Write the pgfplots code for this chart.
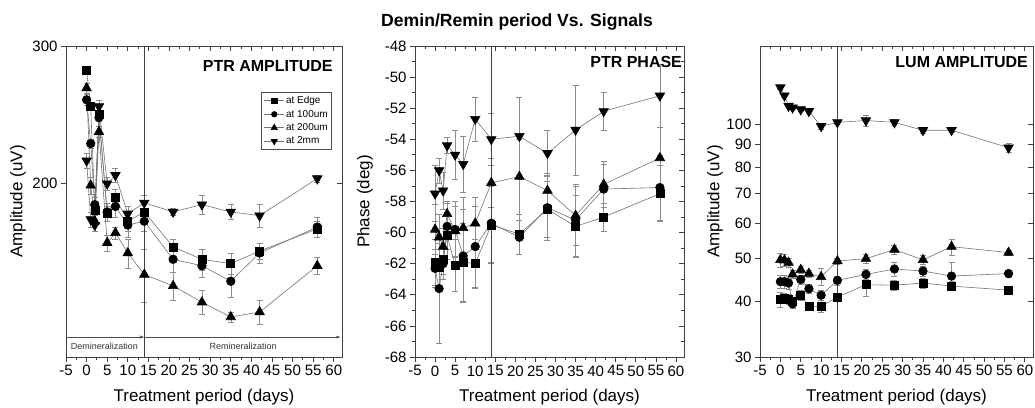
\documentclass[border=0pt]{standalone}
\usepackage{fontspec}
\setmainfont{Liberation Sans}
\usepackage{pgfplots}
\pgfplotsset{compat=1.18}
\usetikzlibrary{arrows.meta}

\pgfplotsset{
  base/.style={
    scale only axis, height=311pt,
    xmin=-5, xmax=62, xtick={-5,0,...,60}, minor x tick num=1,
    tick pos=left, tick align=outside,
    axis line style={black!75, line width=0.9pt},
    major tick length=5pt, minor tick length=3pt,
    every tick/.append style={black!75, line width=0.8pt},
    /pgf/number format/assume math mode=true,
    tick label style={font=\fontsize{15}{18}\selectfont},
    label style={font=\fontsize{17}{20}\selectfont},
    xlabel={Treatment period (days)},
    xlabel style={at={(axis description cs:0.5,-0.128)}, anchor=center},
  },
  over/.style={tick pos=right, tick align=inside, axis line style={draw=none},
    xticklabels={}, yticklabels={}, xlabel={}, ylabel={}},
  ser/.style={black!55, line width=0.6pt, mark options={black, solid},
    error bars/y dir=both, error bars/y explicit,
    error bars/error bar style={black!45, line width=0.5pt},
    error bars/error mark options={rotate=90, black!45, mark size=3pt, line width=0.5pt}},
  sq/.style={ser, mark=square*, mark size=4pt},
  ci/.style={ser, mark=*, mark size=4.3pt},
  tu/.style={ser, mark=triangle*, mark size=5.5pt},
  td/.style={ser, mark=triangle*, mark size=5.5pt, mark options={black, solid, rotate=180}},
}

\begin{document}
\begin{tikzpicture}
\path[use as bounding box] (0pt,0pt) rectangle (1035pt,407pt);
\node[font=\bfseries\fontsize{17.6}{20}\selectfont] at (517pt,385pt) {Demin/Remin period Vs. Signals};

% ---------- Panel 1 ----------
\begin{axis}[base, at={(66pt,50pt)}, anchor=south west, width=276pt,
  ymode=log, ymin=120, ymax=300, ytick={200,300}, log ticks with fixed point, yminorticks=false,
  ylabel={Amplitude (uV)},
  ylabel style={at={(axis description cs:-0.174,0.5)}, anchor=center},
  legend style={at={(rel axis cs:0.964,0.852)}, anchor=north east,
    font=\fontsize{10}{12}\selectfont, draw=black!70, line width=0.6pt,
    row sep=2pt, inner sep=2.5pt, nodes={inner sep=1.5pt}},
  legend cell align=left,
  legend image code/.code={\draw[mark repeat=2,mark phase=2] plot coordinates {(0pt,0pt) (10pt,0pt) (20pt,0pt)};},
  legend image post style={every mark/.append style={scale=0.65}},
]
\addplot+[sq] table[y error=e] {
x y e
0 279 3
1 251 3
2 185 3
3 245 3
5 183 4
7 192 5
10 179 5
14 184 5
21 166 4
28 160 5
35 158 5
42 164 4
56 175 4
};
\addplot+[ci] table[y error=e] {
x y e
0 256 4
1 225 3
2 188 4
3 243 3
5 184 5
7 187 6
10 177 6
14 179 5
21 160 6
28 157 5
35 150 7
42 163 5
56 176 5
};
\addplot+[tu] table[y error=e] {
x y e
0 265 4
1 199 5
2 179 5
3 233 4
5 168 4
7 173 3
10 163 7
14 153 12
21 148 6
28 141 5
35 135 2
42 137 5
56 157 4
};
\addplot+[td] table[y error=e] {
x y e
0 214 5
1 180 4
2 177 3
3 251 5
5 200 4
7 205 4
10 183 4
14 189 4
21 184 2
28 188 5
35 184 4
42 182 6
56 203 2
};
\legend{at Edge, at 100um, at 200um, at 2mm}
\draw[black!75, line width=0.8pt] (rel axis cs:0.2836,0) -- (rel axis cs:0.2836,1);
\draw[-{Stealth[length=5pt,width=3pt]}, black!70, line width=0.6pt]
  (rel axis cs:0,0.064) -- (rel axis cs:0.2836,0.064);
\draw[-{Stealth[length=5pt,width=3pt]}, black!70, line width=0.6pt]
  (rel axis cs:0.2836,0.064) -- (rel axis cs:0.995,0.064);
\node[font=\fontsize{9}{10}\selectfont, text=black!80] at (rel axis cs:0.139,0.036) {Demineralization};
\node[font=\fontsize{9}{10}\selectfont, text=black!80] at (rel axis cs:0.642,0.036) {Remineralization};
\node[anchor=north east, inner sep=0pt, font=\bfseries\fontsize{16}{19}\selectfont] at (rel axis cs:0.967,0.955) {PTR AMPLITUDE};
\end{axis}
\begin{axis}[base, over, at={(66pt,50pt)}, anchor=south west, width=276pt,
  ymode=log, ymin=120, ymax=300, ytick={200,300}, yminorticks=false]
\addplot[draw=none] coordinates {(0,200)};
\end{axis}

% ---------- Panel 2 ----------
\begin{axis}[base, at={(415pt,50pt)}, anchor=south west, width=269pt,
  ymin=-68, ymax=-48, ytick={-68,-66,...,-48}, minor y tick num=1,
  ylabel={Phase (deg)},
  ylabel style={at={(axis description cs:-0.186,0.5)}, anchor=center},
]
\addplot+[sq] table[y error=e] {
x y e
0 -61.9 1.5
1 -62.2 1.5
2 -61.7 1.0
3 -60.2 1.5
5 -62.1 1.7
7 -61.9 2.5
10 -62.0 1.6
14 -59.5 2.5
21 -60.1 1.3
28 -58.5 1.8
35 -59.6 2.0
42 -59.0 0.9
56 -57.5 1.8
};
\addplot+[ci] table[y error=e] {
x y e
0 -62.3 1.2
1 -63.6 3.5
2 -62.0 1.0
3 -59.6 1.5
5 -59.8 1.8
7 -61.5 3.0
10 -60.9 2.6
14 -59.4 2.5
21 -60.3 1.1
28 -58.4 2.1
35 -59.2 2.3
42 -57.2 1.6
56 -57.1 2.1
};
\addplot+[tu] table[y error=e] {
x y e
0 -59.8 1.6
1 -60.3 1.5
2 -60.9 1.2
3 -58.8 0.8
5 -59.9 1.6
7 -59.7 2.0
10 -59.4 1.7
14 -56.8 1.6
21 -56.4 2.4
28 -57.3 1.1
35 -58.9 1.9
42 -56.9 1.5
56 -55.2 2.0
};
\addplot+[td] table[y error=e] {
x y e
0 -57.5 1.8
1 -56.0 0.8
2 -57.3 1.2
3 -54.4 0.5
5 -55.0 1.6
7 -55.6 1.8
10 -52.7 1.4
14 -54.0 1.7
21 -53.8 2.5
28 -54.9 1.5
35 -53.4 2.9
42 -52.2 1.2
56 -51.2 2.0
};
\draw[black!75, line width=0.8pt] (rel axis cs:0.2836,0) -- (rel axis cs:0.2836,1);
\node[anchor=north east, inner sep=0pt, font=\bfseries\fontsize{16}{19}\selectfont] at (rel axis cs:0.993,0.966) {PTR PHASE};
\end{axis}
\begin{axis}[base, over, at={(415pt,50pt)}, anchor=south west, width=269pt,
  ymin=-68, ymax=-48, ytick={-68,-66,...,-48}, minor y tick num=1]
\addplot[draw=none] coordinates {(0,-60)};
\end{axis}

% ---------- Panel 3 ----------
\begin{axis}[base, at={(760pt,50pt)}, anchor=south west, width=273pt,
  ymode=log, ymin=30, ymax=150, ytick={30,40,50,60,70,80,90,100}, log ticks with fixed point, yminorticks=false,
  ylabel={Amplitude (uV)},
  ylabel style={at={(axis description cs:-0.165,0.5)}, anchor=center},
]
\addplot+[sq] table[y error=e] {
x y e
0 40.4 1.5
1 40.7 1.0
2 40.5 1.0
3 40.0 0.8
5 41.3 1.0
7 39.0 0.6
10 39.0 1.2
14 40.9 0.8
21 43.6 2.6
28 43.5 1.2
35 44.0 1.2
42 43.3 1.0
56 42.4 0.6
};
\addplot+[ci] table[y error=e] {
x y e
0 44.3 1.5
1 44.3 1.5
2 44.0 1.5
3 39.5 0.8
5 44.8 1.0
7 42.7 1.0
10 41.3 1.0
14 44.6 1.0
21 46.0 1.2
28 47.3 1.8
35 46.8 1.2
42 45.6 3.3
56 46.2 0.8
};
\addplot+[tu] table[y error=e] {
x y e
0 49.6 1.8
1 49.5 1.5
2 48.9 1.2
3 46.0 1.0
5 47.1 0.8
7 46.2 0.8
10 45.4 2.0
14 49.3 0.8
21 49.9 1.2
28 52.3 1.2
35 49.6 1.2
42 53.1 2.2
56 51.5 0.6
};
\addplot+[td] table[y error=e] {
x y e
0 121 1
1 116 1
2 110 1
3 109 1
5 108 1
7 107 1
10 99 1.5
14 101 1
21 102 3
28 101 1.5
35 97 1.5
42 97 1
56 88.6 2
};
\draw[black!75, line width=0.8pt] (rel axis cs:0.2836,0) -- (rel axis cs:0.2836,1);
\node[anchor=north east, inner sep=0pt, font=\bfseries\fontsize{16}{19}\selectfont] at (rel axis cs:0.982,0.966) {LUM AMPLITUDE};
\end{axis}
\begin{axis}[base, over, at={(760pt,50pt)}, anchor=south west, width=273pt,
  ymode=log, ymin=30, ymax=150, ytick={30,40,50,60,70,80,90,100}, yminorticks=false]
\addplot[draw=none] coordinates {(0,50)};
\end{axis}
\end{tikzpicture}
\end{document}
